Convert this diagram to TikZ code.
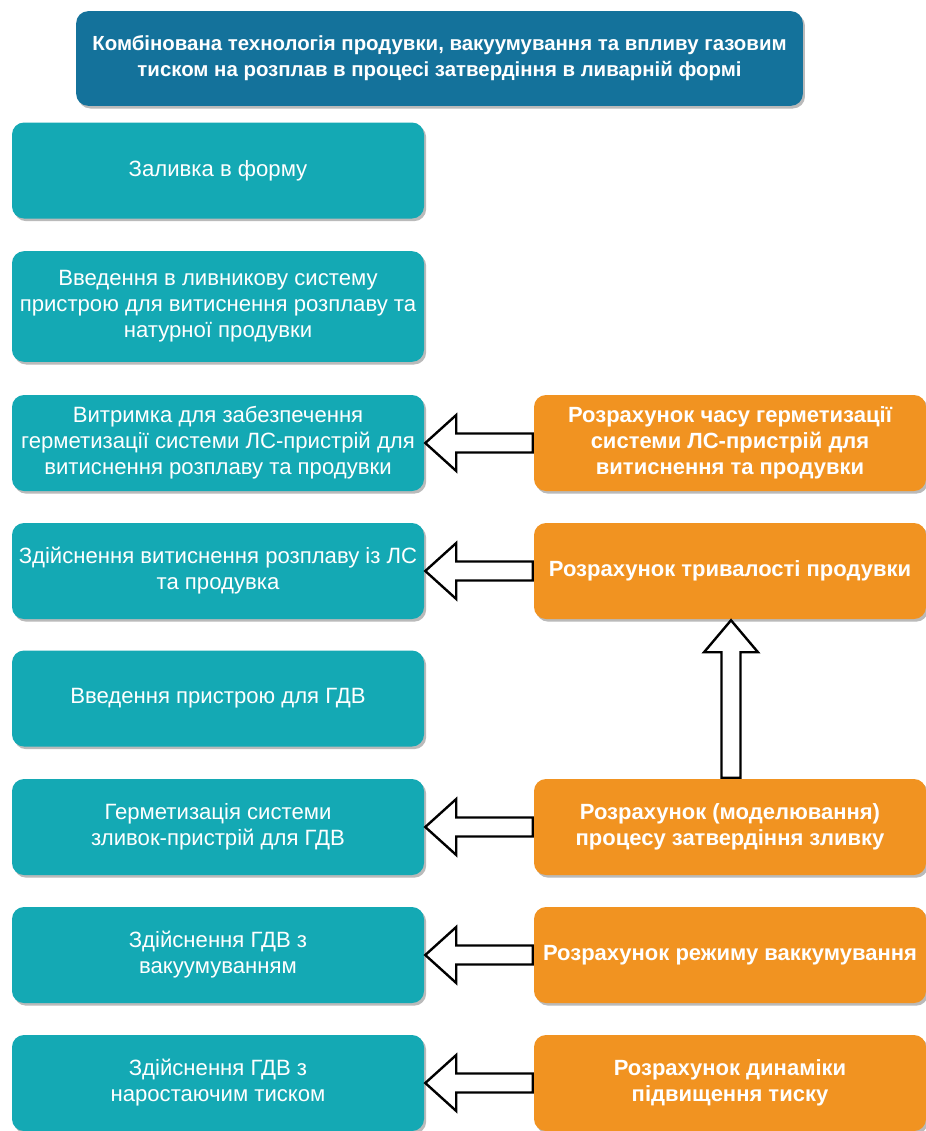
\documentclass[tikz,border=0pt]{standalone}
\usepackage{fontspec}
\setmainfont{Liberation Sans}
\usetikzlibrary{calc,shadows}
\definecolor{titleblue}{RGB}{20,114,155}
\definecolor{tealc}{RGB}{20,169,180}
\definecolor{orangec}{RGB}{241,147,33}
\begin{document}
\begin{tikzpicture}[x=0.75pt,y=-0.75pt,
  basebox/.style={rounded corners=9pt, text=white, align=center, inner sep=0pt,
    drop shadow={shadow xshift=1.6pt, shadow yshift=-2pt, fill=black!45, opacity=0.6}},
  titlebox/.style={basebox, fill=titleblue, minimum width=545pt, minimum height=71pt,
    font=\fontsize{15.3}{19.5}\selectfont\bfseries},
  tealbox/.style={basebox, fill=tealc, minimum width=309pt, minimum height=72pt,
    font=\fontsize{16.6}{19.5}\selectfont},
  orangebox/.style={basebox, fill=orangec, minimum width=294pt, minimum height=72pt,
    font=\fontsize{16.5}{19.5}\selectfont\bfseries},
  barrow/.style={draw=black, fill=white, line width=1.8pt, line join=miter}
]
\useasboundingbox (0,0) rectangle (925,1131);
\fill[white] (0,0) rectangle (925,1131);

\node[titlebox] (title) at (439.5,58.5) {Комбінована технологія продувки, вакуумування та впливу газовим\\тиском на розплав в процесі затвердіння в ливарній формі};

\node[tealbox] (t1) at (218,170.5) {Заливка в форму};
\node[tealbox, minimum height=83pt] (t2) at (218,306.5) {Введення в ливникову систему\\пристрою для витиснення розплаву та\\натурної продувки};
\node[tealbox] (t3) at (218,443) {Витримка для забезпечення\\герметизації системи ЛС-пристрій для\\витиснення розплаву та продувки};
\node[tealbox] (t4) at (218,571) {Здійснення витиснення розплаву із ЛС\\та продувка};
\node[tealbox] (t5) at (218,698.5) {Введення пристрою для ГДВ};
\node[tealbox] (t6) at (218,827) {Герметизація системи\\зливок-пристрій для ГДВ};
\node[tealbox] (t7) at (218,955) {Здійснення ГДВ з\\вакуумуванням};
\node[tealbox] (t8) at (218,1083) {Здійснення ГДВ з\\наростаючим тиском};

\node[orangebox] (o1) at (730,443) {Розрахунок часу герметизації\\системи ЛС-пристрій для\\витиснення та продувки};
\node[orangebox] (o2) at (730,571) {Розрахунок тривалості продувки};
\node[orangebox] (o3) at (730,827) {Розрахунок (моделювання)\\процесу затвердіння зливку};
\node[orangebox] (o4) at (730,955) {Розрахунок режиму ваккумування};
\node[orangebox] (o5) at (730,1083) {Розрахунок динаміки\\підвищення тиску};

\foreach \o/\t in {o1/t3,o2/t4,o3/t6,o4/t7,o5/t8}{
  \draw[barrow] ($(\o.west)+(-1,-9.5)$) -- ($(\t.east)+(32,-9.5)$) -- ($(\t.east)+(32,-28)$)
    -- ($(\t.east)+(1,0)$) -- ($(\t.east)+(32,28)$) -- ($(\t.east)+(32,9.5)$)
    -- ($(\o.west)+(-1,9.5)$) -- cycle;
}
\draw[barrow] ($(o3.north)+(-8.5,-1)$) -- ($(o2.south)+(-8.5,33)$) -- ($(o2.south)+(-26,33)$)
  -- ($(o2.south)+(1,1)$) -- ($(o2.south)+(28,33)$) -- ($(o2.south)+(10.5,33)$)
  -- ($(o3.north)+(10.5,-1)$) -- cycle;
\end{tikzpicture}
\end{document}
